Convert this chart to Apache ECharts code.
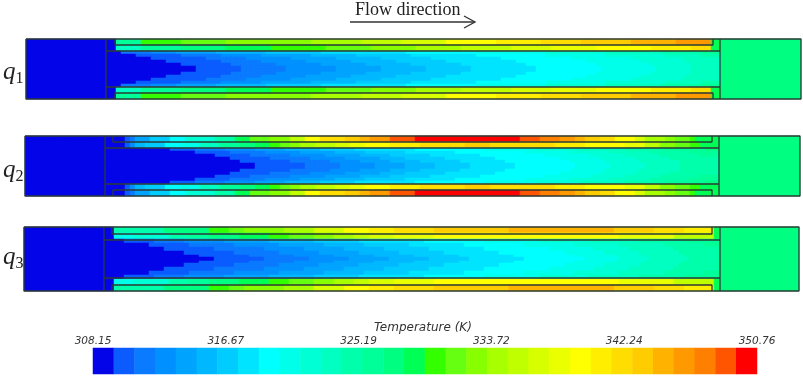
<!DOCTYPE html>
<html><head><meta charset="utf-8">
<style>html,body{margin:0;padding:0;background:#fff}#c{width:803px;height:377px;filter:blur(0.45px)}</style>
<script src="https://cdn.jsdelivr.net/npm/echarts@6/dist/echarts.min.js"></script>
</head><body><div id="c"></div>
<script>
// Temperature tick labels and the 32 colour levels of the scale
const tickLabels = ['308.15','316.67','325.19','333.72','342.24','350.76'];
const levelColors = ['#0404e8','#0a5cff','#0a7aff','#0090ff','#00a4ff','#00b8ff','#00ccff','#00e4ff',
 '#00ffff','#00ffea','#00ffd5','#00ffc0','#00ffaa','#00ff99','#00ff80','#00ff55',
 '#33ff00','#66ff11','#88ff00','#a8ff00','#c0ff00','#d8ff00','#eaff00','#ffff00',
 '#ffee00','#ffdd00','#ffcc00','#ffb300','#ff9900','#ff8000','#ff5500','#ff0000'];
const levels = levelColors.map((c,i)=>i);
const columnCount = 155;

// Each row: runs of [temperature level, column where the run ends]
const q1Outer = [[0,18],[13,23],[16,31],[17,40],[18,57],[19,67],[20,75],[21,84],[23,94],[24,103],[25,111],[26,121],[27,130],[28,137],[15,139],[14,155]];
const q1Inner = [[0,18],[11,23],[13,31],[14,40],[15,49],[16,60],[17,69],[18,78],[19,87],[20,97],[21,105],[22,114],[23,125],[24,133],[25,137],[15,139],[14,155]];
const q1CoreA = [[0,19],[2,25],[3,30],[4,38],[5,48],[6,59],[7,76],[8,90],[9,104],[10,116],[11,127],[12,135],[13,139],[14,155]];
const q1CoreB = [[0,22],[1,31],[2,39],[3,47],[4,57],[5,66],[6,77],[7,90],[8,104],[9,116],[10,128],[11,135],[12,139],[14,155]];
const q1CoreC = [[0,25],[1,36],[2,44],[3,53],[4,62],[5,71],[6,81],[7,95],[8,109],[9,121],[10,131],[11,139],[14,155]];
const q1CoreD = [[0,28],[1,39],[2,47],[3,56],[4,65],[5,74],[6,84],[7,98],[8,112],[9,123],[10,132],[11,139],[14,155]];
const q1CoreE = [[0,31],[1,41],[2,50],[3,59],[4,68],[5,77],[6,87],[7,100],[8,114],[9,125],[10,133],[11,139],[14,155]];
const q1CoreF = [[0,34],[1,43],[2,52],[3,62],[4,71],[5,80],[6,89],[7,102],[8,115],[9,126],[10,133],[11,139],[14,155]];

const q2Outer = [[0,20],[1,21],[2,22],[4,25],[6,29],[8,32],[10,38],[12,42],[15,45],[17,49],[18,53],[20,56],[23,59],[25,64],[26,67],[27,69],[28,73],[30,78],[31,99],[30,103],[29,107],[28,110],[27,112],[26,115],[25,118],[23,122],[21,124],[19,128],[18,130],[17,133],[16,134],[15,139],[14,155]];
const q2Inner = [[0,20],[1,21],[3,22],[5,24],[6,28],[8,31],[9,35],[11,39],[13,43],[14,46],[15,49],[16,51],[17,53],[18,55],[19,58],[20,62],[21,65],[22,68],[23,73],[24,79],[25,88],[26,93],[25,106],[24,112],[23,120],[22,124],[20,127],[18,130],[17,133],[16,135],[15,139],[14,155]];
const q2CoreA = [[0,29],[1,34],[2,40],[3,46],[4,52],[5,59],[6,66],[7,78],[8,92],[9,102],[10,111],[11,120],[12,128],[13,136],[14,155]];
const q2CoreB = [[0,34],[1,41],[2,48],[3,55],[4,62],[5,68],[6,76],[7,86],[8,100],[9,109],[10,117],[11,125],[12,133],[13,139],[14,155]];
const q2CoreC = [[0,38],[1,45],[2,53],[3,60],[4,67],[5,73],[6,81],[7,91],[8,104],[9,113],[10,120],[11,127],[12,135],[13,139],[14,155]];
const q2CoreD = [[0,41],[1,49],[2,57],[3,64],[4,71],[5,76],[6,84],[7,94],[8,107],[9,115],[10,122],[11,129],[12,139],[14,155]];
const q2CoreE = [[0,43],[1,53],[2,61],[3,67],[4,73],[5,79],[6,87],[7,96],[8,109],[9,116],[10,123],[11,131],[12,139],[14,155]];
const q2CoreF = [[0,46],[1,56],[2,63],[3,70],[4,76],[5,82],[6,89],[7,98],[8,110],[9,117],[10,124],[11,131],[12,139],[14,155]];

const q3Outer = [[0,18],[12,28],[14,37],[16,41],[17,44],[18,52],[19,58],[21,64],[23,69],[24,74],[25,82],[26,97],[27,118],[26,126],[25,132],[24,138],[15,139],[14,155]];
const q3Inner = [[0,18],[9,22],[10,29],[12,33],[13,37],[14,43],[15,49],[16,53],[17,58],[18,62],[19,66],[20,69],[21,74],[22,82],[23,119],[22,130],[20,138],[15,139],[14,155]];
const q3CoreA = [[0,20],[1,26],[2,32],[3,40],[4,49],[5,58],[6,67],[7,80],[8,92],[9,103],[10,113],[11,123],[12,132],[13,139],[14,155]];
const q3CoreB = [[0,25],[1,33],[2,42],[3,51],[4,60],[5,68],[6,77],[7,88],[8,100],[9,110],[10,119],[11,128],[12,136],[13,139],[14,155]];
const q3CoreC = [[0,28],[1,38],[2,48],[3,56],[4,64],[5,72],[6,81],[7,92],[8,105],[9,114],[10,121],[11,130],[12,139],[14,155]];
const q3CoreD = [[0,32],[1,42],[2,51],[3,59],[4,67],[5,75],[6,84],[7,95],[8,108],[9,116],[10,123],[11,131],[12,139],[14,155]];
const q3CoreE = [[0,35],[1,45],[2,54],[3,62],[4,70],[5,78],[6,87],[7,98],[8,110],[9,118],[10,124],[11,132],[12,139],[14,155]];
const q3CoreF = [[0,38],[1,48],[2,57],[3,65],[4,73],[5,81],[6,89],[7,100],[8,112],[9,119],[10,125],[11,133],[12,139],[14,155]];

const panelRows = [
  [q1Outer,q1Inner,q1CoreA,q1CoreB,q1CoreC,q1CoreD,q1CoreE,q1CoreF],
  [q2Outer,q2Inner,q2CoreA,q2CoreB,q2CoreC,q2CoreD,q2CoreE,q2CoreF],
  [q3Outer,q3Inner,q3CoreA,q3CoreB,q3CoreC,q3CoreD,q3CoreE,q3CoreF]
];
const panelNames = ['1','2','3'];

// Layout only
const panels = [
  {left:26,top:39,width:775,height:60,repeat:[2,2,1,1,1,1,1,1],inlet:80,step:89,cap:687,outlet:694,y1:6,y2:12,y3:48,y4:54,labelTop:60},
  {left:25,top:136,width:775,height:60,repeat:[2,2,1,1,1,1,1,1],inlet:80,step:88,cap:687,outlet:694,y1:6,y2:12,y3:48,y4:54,labelTop:158},
  {left:24,top:227,width:775,height:64,repeat:[3,3,2,2,2,2,1,1],inlet:80,step:88,cap:688,outlet:696,y1:7,y2:13,y3:51,y4:58,labelTop:245}
];

function expand(runs){
  const out=[]; let c=0;
  runs.forEach(([lv,end])=>{ while(c<end){ out.push(lv); c++; } });
  return out;
}
function rowStack(rows,repeat){
  const half=[]; 
  rows.forEach((r,i)=>{ for(let n=0;n<repeat[i];n++) half.push(r); });
  return half.concat(half.slice().reverse());
}
function panelCells(stack){
  const cells=[];
  stack.forEach((runs,r)=>expand(runs).forEach((lv,c)=>cells.push([c,r,lv])));
  return cells;
}
function wallLines(p){
  const W=p.width,H=p.height,br=['-','-'];
  return [[0,0],[W,0],[W,H],[0,H],[0,0],br,
    [p.inlet,0],[p.inlet,H],br,[p.outlet,0],[p.outlet,H],br,
    [p.inlet,p.y2],[p.outlet,p.y2],br,[p.inlet,p.y3],[p.outlet,p.y3],br,
    [p.step,0],[p.step,p.y1],[p.cap,p.y1],[p.cap,0],br,
    [p.step,H],[p.step,p.y4],[p.cap,p.y4],[p.cap,H]];
}

const colCats=Array.from({length:columnCount},(_,i)=>i);
const grid=[],xAxis=[],yAxis=[],heat=[],walls=[],title=[];
panels.forEach((p,k)=>{
  const stack=rowStack(panelRows[k],p.repeat);
  grid.push({left:p.left,top:p.top,width:p.width,height:p.height});
  xAxis.push({type:'category',gridIndex:k,data:colCats,show:false});
  yAxis.push({type:'category',gridIndex:k,data:stack.map((_,i)=>i),inverse:true,show:false});
  xAxis.push({type:'value',gridIndex:k,min:0,max:p.width,show:false});
  yAxis.push({type:'value',gridIndex:k,min:0,max:p.height,inverse:true,show:false});
  heat.push({type:'heatmap',xAxisIndex:2*k,yAxisIndex:2*k,data:panelCells(stack),progressive:0,silent:true});
  walls.push({type:'line',xAxisIndex:2*k+1,yAxisIndex:2*k+1,data:wallLines(p),showSymbol:false,symbol:'none',clip:false,silent:true,
    connectNulls:false,z:5,lineStyle:{color:'#2b3a34',width:1.3}});
  title.push({left:3,top:p.labelTop,padding:0,text:'{q|q}{s|'+panelNames[k]+'}',
    textStyle:{fontWeight:'normal',rich:{q:{fontFamily:'Liberation Serif',fontStyle:'italic',fontWeight:'normal',fontSize:25,color:'#222',verticalAlign:'bottom',padding:[0,0,2,0]},
      s:{fontFamily:'Liberation Serif',fontWeight:'normal',fontSize:16,color:'#222',verticalAlign:'bottom',padding:[0,0,0,0]}}}});
});
// colour bar
const kBar=panels.length;
grid.push({left:93,top:348,width:664,height:26});
xAxis.push({type:'category',gridIndex:kBar,data:levels,show:false});
yAxis.push({type:'category',gridIndex:kBar,data:['T'],show:false});
xAxis.push({type:'value',gridIndex:kBar,position:'top',min:0,max:tickLabels.length-1,interval:1,
  axisLine:{show:false},axisTick:{show:false},splitLine:{show:false},
  axisLabel:{margin:1,fontFamily:'DejaVu Sans',fontStyle:'italic',fontSize:10.5,color:'#333',
    formatter:v=>tickLabels[v]}});
heat.push({type:'heatmap',xAxisIndex:2*kBar,yAxisIndex:kBar*2,data:levels.map(l=>[l,0,l]),silent:true});
title.push({left:374,top:322,padding:0,text:'Temperature (K)',textStyle:{fontFamily:'DejaVu Sans',fontStyle:'italic',fontWeight:'normal',fontSize:12,color:'#333'}});
title.push({left:355,top:1,padding:0,text:'Flow direction',textStyle:{fontFamily:'Liberation Serif',fontWeight:'normal',fontSize:18,color:'#222'}});

const chart=echarts.init(document.getElementById('c'),null,{renderer:'canvas'});
chart.setOption({
  backgroundColor:'#fff',animation:false,title,grid,xAxis,yAxis,
  visualMap:{type:'piecewise',show:false,seriesIndex:[0,1,2,3],dimension:2,
    pieces:levels.map(l=>({value:l,color:levelColors[l]}))},
  series:heat.concat(walls),
  graphic:[{type:'polyline',shape:{points:[[350,22],[475,22]]},style:{stroke:'#333',lineWidth:1.5,fill:null}},
           {type:'polyline',shape:{points:[[464,16],[475,22],[464,28]]},style:{stroke:'#333',lineWidth:1.3,fill:null}}]
});
</script></body></html>
